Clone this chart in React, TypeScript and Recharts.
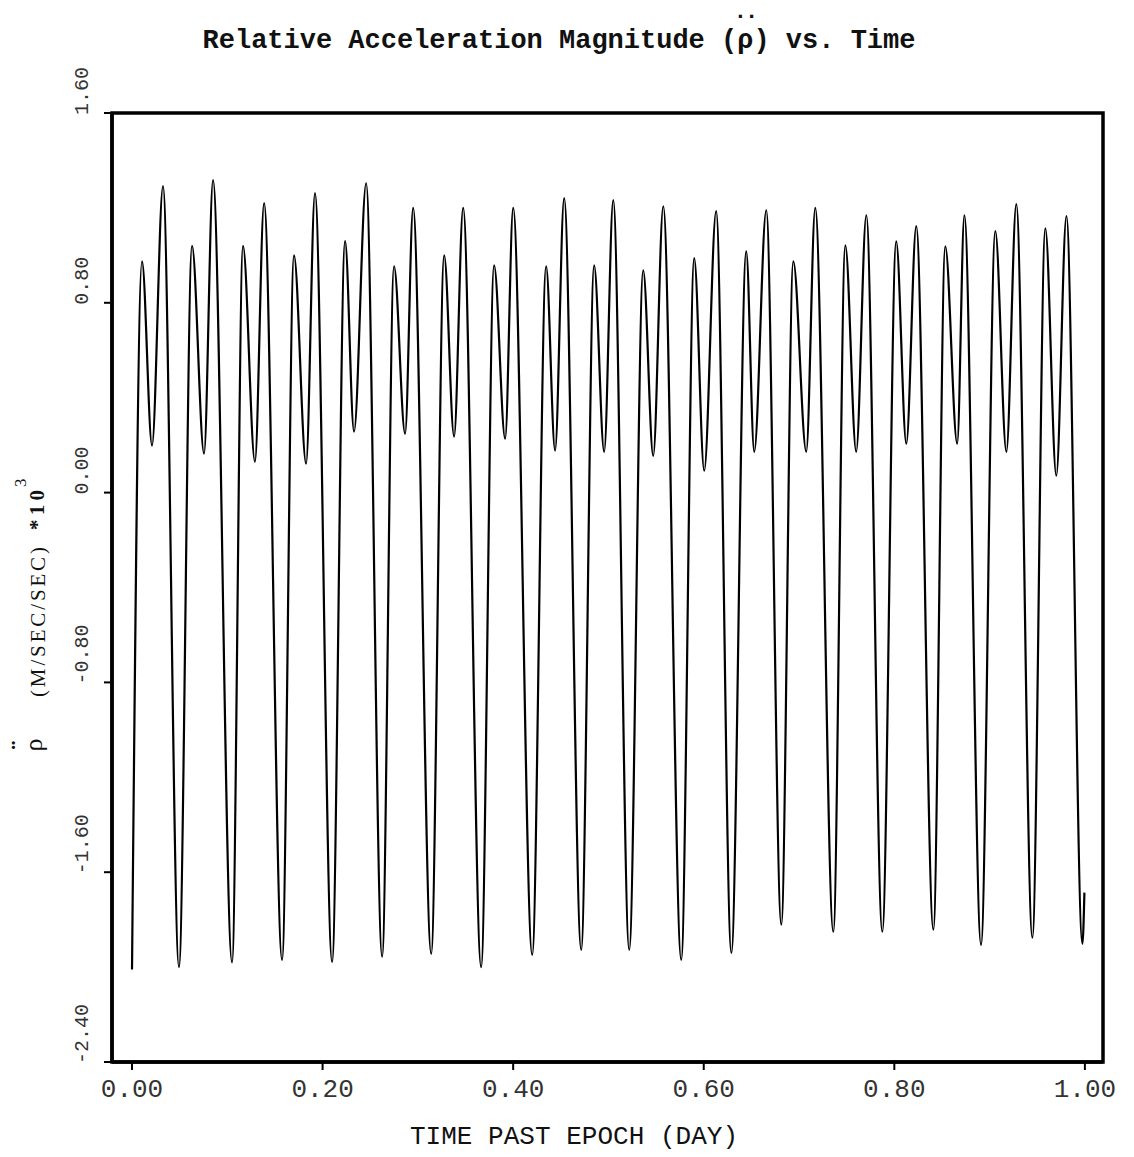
import React from "react";
import { LineChart, Line, XAxis, YAxis, ReferenceArea } from "recharts";

// time past epoch (day)
const timeDay = [
  0.0, 0.0105, 0.021, 0.0325,
  0.0493, 0.063, 0.0756, 0.085,
  0.105, 0.1165, 0.129, 0.1386,
  0.1575, 0.17, 0.1827, 0.192,
  0.21, 0.2236, 0.233, 0.2457,
  0.2625, 0.275, 0.2866, 0.295,
  0.314, 0.3276, 0.338, 0.3475,
  0.3664, 0.38, 0.3916, 0.4,
  0.42, 0.4346, 0.444, 0.4535,
  0.4714, 0.485, 0.4955, 0.505,
  0.5218, 0.5365, 0.547, 0.5575,
  0.5764, 0.59, 0.6005, 0.613,
  0.629, 0.6446, 0.653, 0.6656,
  0.6814, 0.694, 0.7076, 0.717,
  0.736, 0.7486, 0.76, 0.7706,
  0.7874, 0.802, 0.8126, 0.823,
  0.841, 0.8535, 0.866, 0.8735,
  0.891, 0.906, 0.9176, 0.928,
  0.9449, 0.9585, 0.97, 0.9806,
  0.9974, 0.9995,
];

// relative acceleration magnitude (m/sec/sec * 10^3)
const accel = [
  -2.01, 0.975, 0.198, 1.292,
  -2.0, 1.04, 0.164, 1.317,
  -1.98, 1.04, 0.13, 1.22,
  -1.97, 1.0, 0.122, 1.262,
  -1.978, 1.06, 0.257, 1.304,
  -1.956, 0.954, 0.248, 1.2,
  -1.944, 1.0, 0.236, 1.2,
  -2.0, 0.958, 0.227, 1.2,
  -1.948, 0.954, 0.177, 1.241,
  -1.927, 0.958, 0.172, 1.233,
  -1.927, 0.937, 0.155, 1.207,
  -1.969, 0.988, 0.092, 1.186,
  -1.94, 1.017, 0.172, 1.19,
  -1.821, 0.975, 0.172, 1.2,
  -1.851, 1.042, 0.172, 1.169,
  -1.851, 1.059, 0.206, 1.123,
  -1.842, 1.038, 0.206, 1.169,
  -1.906, 1.102, 0.172, 1.216,
  -1.876, 1.114, 0.071, 1.165,
  -1.902, -1.686,
];

const xTicks = [0, 0.2, 0.4, 0.6, 0.8, 1.0];
const yTicks = [1.6, 0.8, 0.0, -0.8, -1.6, -2.4];
const xDomain = [-0.021, 1.019];
const yDomain = [-2.4, 1.6];

const data = timeDay.map((t, i) => ({ t, v: accel[i] }));

const MONO = "'Liberation Mono', 'DejaVu Sans Mono', monospace";
const SERIF = "'Liberation Serif', 'DejaVu Serif', serif";

const XTick = (props: any) => {
  const { x, y, payload } = props;
  return (
    <text
      x={x}
      y={y + 25}
      textAnchor="middle"
      fontFamily={MONO}
      fontSize={26}
      fill="#333"
    >
      {Number(payload.value).toFixed(2)}
    </text>
  );
};

const YTick = (props: any) => {
  const { y, payload } = props;
  return (
    <text
      transform={`translate(88,${y + 2}) rotate(-90)`}
      textAnchor="start"
      fontFamily={MONO}
      fontSize={20}
      fill="#333"
    >
      {Number(payload.value).toFixed(2)}
    </text>
  );
};

export default function App() {
  return (
    <div
      style={{
        position: "absolute",
        left: 0,
        top: 0,
        width: 1134,
        height: 1157,
        background: "#fff",
      }}
    >
      <LineChart
        width={1134}
        height={1157}
        data={data}
        margin={{ top: 113, right: 31, bottom: 0, left: 0 }}
      >
        <XAxis
          dataKey="t"
          type="number"
          domain={xDomain}
          allowDataOverflow
          ticks={xTicks}
          height={95}
          tickSize={8}
          tickLine={{ stroke: "#000", strokeWidth: 2 }}
          axisLine={{ stroke: "#000", strokeWidth: 3.5 }}
          tick={<XTick />}
          interval={0}
        />
        <YAxis
          type="number"
          domain={yDomain}
          allowDataOverflow
          ticks={yTicks}
          width={112}
          tickSize={8}
          tickLine={{ stroke: "#000", strokeWidth: 2 }}
          axisLine={{ stroke: "#000", strokeWidth: 3.5 }}
          tick={<YTick />}
          interval={0}
        />
        <ReferenceArea
          x1={xDomain[0]}
          x2={xDomain[1]}
          y1={yDomain[0]}
          y2={yDomain[1]}
          fill="none"
          stroke="#000"
          strokeWidth={3.5}
          ifOverflow="visible"
        />
        <Line
          type="monotone"
          dataKey="v"
          stroke="#000"
          strokeWidth={2.2}
          dot={false}
          isAnimationActive={false}
        />
      </LineChart>
      <svg
        width={1134}
        height={1157}
        style={{ position: "absolute", left: 0, top: 0, pointerEvents: "none" }}
      >
        <text
          x={559}
          y={48}
          textAnchor="middle"
          fontFamily={MONO}
          fontWeight="bold"
          fontSize={27}
          fill="#111"
        >
          Relative Acceleration Magnitude (ρ) vs. Time
        </text>
        <text
          x={745}
          y={18}
          textAnchor="middle"
          fontFamily={MONO}
          fontWeight="bold"
          fontSize={22}
          letterSpacing={-2}
          fill="#111"
        >
          ..
        </text>
        <text
          x={574}
          y={1144}
          textAnchor="middle"
          fontFamily={MONO}
          fontSize={26}
          fill="#111"
          textLength={328}
          lengthAdjust="spacing"
        >
          TIME PAST EPOCH (DAY)
        </text>
        <text
          transform="translate(42,745) rotate(-90)"
          textAnchor="middle"
          fontFamily={SERIF}
          fontSize={26}
          fill="#111"
        >
          ρ
        </text>
        <text
          transform="translate(30,745) rotate(-90)"
          textAnchor="middle"
          fontFamily={SERIF}
          fontSize={28}
          fontWeight="bold"
          fill="#111"
        >
          ¨
        </text>
        <text
          transform="translate(45,697) rotate(-90)"
          textAnchor="start"
          fontFamily={SERIF}
          fontSize={21}
          fill="#111"
          textLength={150}
          lengthAdjust="spacing"
        >
          (M/SEC/SEC)
        </text>
        <text
          transform="translate(44,530) rotate(-90)"
          textAnchor="start"
          fontFamily={SERIF}
          fontSize={21}
          fontWeight="bold"
          fill="#111"
          textLength={40}
          lengthAdjust="spacing"
        >
          *10
        </text>
        <text
          transform="translate(26,487) rotate(-90)"
          textAnchor="start"
          fontFamily={SERIF}
          fontSize={17}
          fill="#111"
        >
          3
        </text>
      </svg>
    </div>
  );
}
